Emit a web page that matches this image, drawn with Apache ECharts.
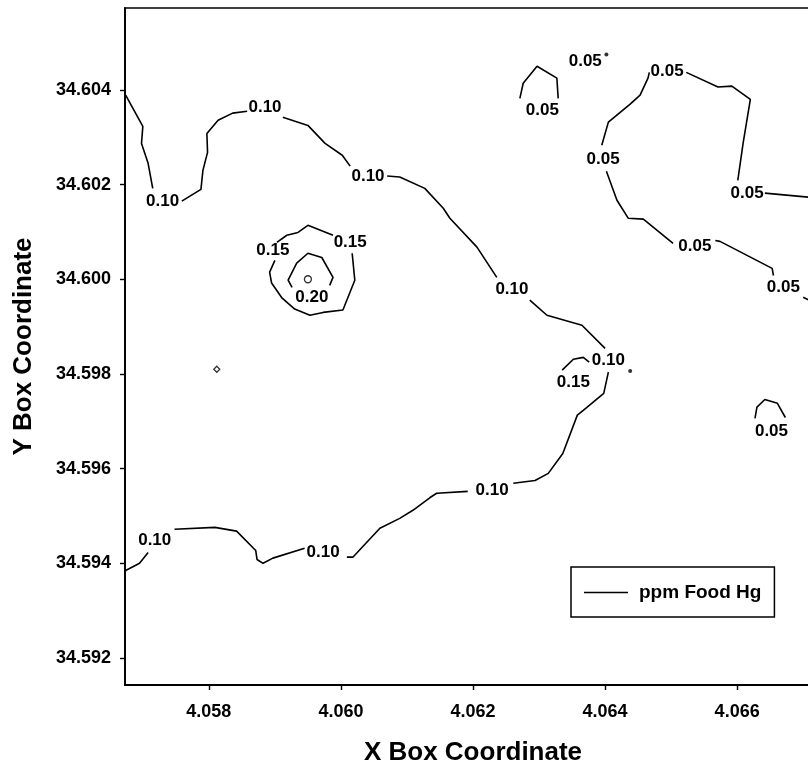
<!DOCTYPE html>
<html>
<head>
<meta charset="utf-8">
<script src="https://cdn.jsdelivr.net/npm/echarts@6/dist/echarts.min.js"></script>
<style>
html,body{margin:0;padding:0;background:#fff;}
#chart{width:808px;height:771px;}
</style>
</head>
<body>
<div id="chart"></div>
<script>
// Axis ticks
const xTicks = [4.058, 4.060, 4.062, 4.064, 4.066];
const yTicks = [34.592, 34.594, 34.596, 34.598, 34.600, 34.602, 34.604];

// Contour level 0.10 (segments, broken at labels)
const contour010 = [
  [[4.05674,34.60389],[4.05700,34.60323],[4.05698,34.60287],[4.05708,34.60245],[4.05715,34.60192]],
  [[4.05759,34.60165],[4.05788,34.60190],[4.05791,34.60230],[4.05798,34.60268],[4.05797,34.60308],[4.05814,34.60336],[4.05836,34.60351],[4.05858,34.60355]],
  [[4.05912,34.60342],[4.05950,34.60325],[4.05976,34.60287],[4.06002,34.60262],[4.06014,34.60239]],
  [[4.06070,34.60218],[4.06089,34.60216],[4.06127,34.60192],[4.06155,34.60150],[4.06165,34.60129],[4.06206,34.60068],[4.06236,34.60004]],
  [[4.06286,34.59956],[4.06312,34.59924],[4.06365,34.59903],[4.06400,34.59854]],
  [[4.06405,34.59804],[4.06398,34.59759],[4.06367,34.59723],[4.06358,34.59713],[4.06336,34.59632],[4.06314,34.59590],[4.06294,34.59575],[4.06261,34.59569]],
  [[4.06192,34.59552],[4.06145,34.59548],[4.06135,34.59539],[4.06109,34.59512],[4.06089,34.59495],[4.06059,34.59474],[4.06018,34.59413],[4.06009,34.59413]],
  [[4.05945,34.59432],[4.05897,34.59411],[4.05882,34.59400],[4.05873,34.59408],[4.05871,34.59427],[4.05842,34.59468],[4.05809,34.59476],[4.05748,34.59472]],
  [[4.05708,34.59423],[4.05695,34.59400],[4.05674,34.59385]]
];

// Contour level 0.15
const contour015 = [
  [[4.05903,34.60078],[4.05918,34.60093],[4.05935,34.60099],[4.05950,34.60114],[4.05988,34.60093]],
  [[4.06017,34.60055],[4.06021,34.59998],[4.06003,34.59935],[4.05973,34.59930],[4.05953,34.59924],[4.05930,34.59937],[4.05911,34.59960],[4.05895,34.59992],[4.05892,34.60015],[4.05900,34.60040]],
  [[4.06335,34.59808],[4.06352,34.59831],[4.06367,34.59835],[4.06376,34.59825]]
];

// Contour level 0.20
const contour020 = [
  [[4.05926,34.59983],[4.05920,34.59998],[4.05933,34.60034],[4.05950,34.60055],[4.05971,34.60046],[4.05988,34.60004],[4.05983,34.59987]]
];

// Contour level 0.05
const contour005 = [
  [[4.06271,34.60382],[4.06276,34.60414],[4.06297,34.60450],[4.06327,34.60425],[4.06329,34.60382]],
  [[4.06467,34.60437],[4.06465,34.60425],[4.06453,34.60389],[4.06438,34.60370],[4.06405,34.60332],[4.06395,34.60283]],
  [[4.06402,34.60228],[4.06418,34.60167],[4.06435,34.60129],[4.06458,34.60127],[4.06503,34.60076]],
  [[4.06567,34.60082],[4.06574,34.60080],[4.06653,34.60023],[4.06655,34.60008]],
  [[4.06700,34.59962],[4.06718,34.59950]],
  [[4.06523,34.60437],[4.06571,34.60406],[4.06592,34.60408],[4.06620,34.60380],[4.06609,34.60287],[4.06601,34.60209]],
  [[4.06642,34.60182],[4.06718,34.60172]],
  [[4.06627,34.59706],[4.06630,34.59730],[4.06642,34.59746],[4.06661,34.59738],[4.06673,34.59708]]
];

// Contour labels: [x, y, text]
const contourLabels = [
  [4.05730,34.60165,'0.10'],
  [4.05885,34.60363,'0.10'],
  [4.06041,34.60218,'0.10'],
  [4.06259,34.59979,'0.10'],
  [4.06405,34.59829,'0.10'],
  [4.06229,34.59554,'0.10'],
  [4.05973,34.59423,'0.10'],
  [4.05718,34.59449,'0.10'],
  [4.05897,34.60061,'0.15'],
  [4.06014,34.60078,'0.15'],
  [4.06352,34.59782,'0.15'],
  [4.05956,34.59962,'0.20'],
  [4.06305,34.60357,'0.05'],
  [4.06370,34.60461,'0.05'],
  [4.06494,34.60439,'0.05'],
  [4.06397,34.60254,'0.05'],
  [4.06536,34.60070,'0.05'],
  [4.06670,34.59983,'0.05'],
  [4.06615,34.60182,'0.05'],
  [4.06652,34.59679,'0.05']
];

// Tiny closed contours / marks
const smallCircles = [[4.05950,34.60000]];
const smallDiamonds = [[4.05812,34.59810]];
const smallDots = [[4.06438,34.59806],[4.06402,34.60475]];

const FONT = '"Liberation Sans", Arial, Helvetica, sans-serif';
const chart = echarts.init(document.getElementById('chart'), null, {renderer:'canvas'});

const series = [];
[contour010, contour015, contour020, contour005].forEach(level => {
  level.forEach(seg => {
    series.push({
      name: 'ppm Food Hg',
      type: 'line',
      data: seg,
      showSymbol: false,
      symbol: 'none',
      color: '#000',
      lineStyle: {color:'#000', width:1.6},
      silent: true,
      animation: false,
      z: 2
    });
  });
});
series.push({
  name: 'labels', type: 'scatter', symbolSize: 0,
  itemStyle: {color: '#000'},
  data: contourLabels.map(d => ({value:[d[0], d[1]], name: d[2]})),
  label: {show:true, position:'inside', formatter:'{b}', color:'#000', opacity:1,
    textBorderWidth:0, fontSize:17, fontWeight:'bold', fontFamily: FONT},
  silent: true, animation:false, z:3
});
series.push({
  name: 'circles', type: 'scatter', symbol: 'circle', symbolSize: 7,
  itemStyle: {color:'#fff', borderColor:'#000', borderWidth:1.3},
  data: smallCircles, silent: true, animation:false, z:3
});
series.push({
  name: 'diamonds', type: 'scatter', symbol: 'diamond', symbolSize: 6,
  itemStyle: {color:'#fff', borderColor:'#000', borderWidth:1.3},
  data: smallDiamonds, silent: true, animation:false, z:3
});
series.push({
  name: 'dots', type: 'scatter', symbol: 'circle', symbolSize: 4,
  itemStyle: {color:'#000'},
  data: smallDots, silent: true, animation:false, z:3
});

chart.setOption({
  backgroundColor: '#fff',
  animation: false,
  textStyle: {fontFamily: FONT},
  grid: {
    left: 125, top: 8, right: -13, bottom: 86,
    show: true, borderColor: '#000', borderWidth: 1.6, backgroundColor: 'transparent',
    containLabel: false, outerBoundsMode: 'none'
  },
  legend: {
    data: ['ppm Food Hg'],
    left: 571, top: 567,
    borderColor: '#000', borderWidth: 1.5,
    padding: [16, 13, 15, 13],
    icon: 'rect', itemWidth: 44, itemHeight: 1.6,
    itemStyle: {color:'#000'},
    textStyle: {fontSize: 19, fontWeight:'bold', color:'#000', fontFamily: FONT, padding:[0,0,0,6]}
  },
  xAxis: {
    type: 'value', min: 4.05673, max: 4.06727,
    name: 'X Box Coordinate', nameLocation: 'middle', nameGap: 55,
    nameTextStyle: {fontSize: 26, fontWeight:'bold', color:'#000', fontFamily: FONT},
    axisLine: {show:true, onZero:false, lineStyle:{color:'#000', width:1.8}},
    axisTick: {show:true, length:5, customValues: xTicks, lineStyle:{color:'#000', width:1.4}},
    axisLabel: {customValues: xTicks, margin: 18, fontSize: 18, fontWeight:'bold', color:'#000', fontFamily: FONT,
      formatter: v => v.toFixed(3)},
    splitLine: {show:false}
  },
  yAxis: {
    type: 'value', min: 34.59143, max: 34.60573,
    name: 'Y Box Coordinate', nameLocation: 'middle', nameGap: 88,
    nameTextStyle: {fontSize: 26, fontWeight:'bold', color:'#000', fontFamily: FONT},
    axisLine: {show:true, onZero:false, lineStyle:{color:'#000', width:1.8}},
    axisTick: {show:true, length:5, customValues: yTicks, lineStyle:{color:'#000', width:1.4}},
    axisLabel: {customValues: yTicks, margin: 14, fontSize: 18, fontWeight:'bold', color:'#000', fontFamily: FONT,
      formatter: v => v.toFixed(3)},
    splitLine: {show:false}
  },
  series: series
});
</script>
</body>
</html>
